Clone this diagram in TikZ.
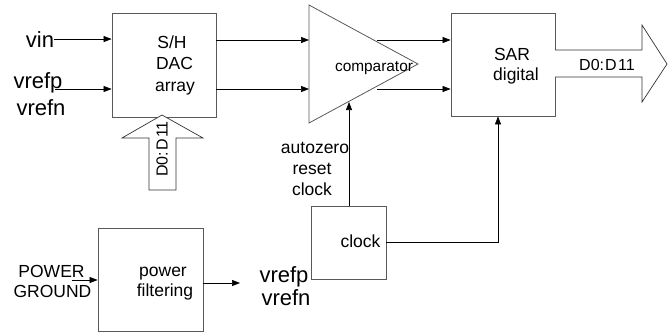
\documentclass[tikz,border=0pt]{standalone}
\usepackage{fontspec}
\setmainfont{Liberation Sans}
\usetikzlibrary{arrows.meta}
\begin{document}
\begin{tikzpicture}[x=1pt,y=-1pt,
  box/.style={draw=black!65, line width=0.8pt, inner sep=0pt},
  wire/.style={draw=black, line width=0.7pt},
  arr/.style={wire, -{Triangle[length=8pt,width=6pt]}},
  big/.style={font=\fontsize{22}{26}\selectfont, inner sep=0pt, anchor=base},
  lbl/.style={font=\fontsize{17.5}{21}\selectfont, inner sep=0pt, anchor=base},
  sml/.style={font=\fontsize{15.4}{18}\selectfont, inner sep=0pt},
  bustxt/.style={font=\fontsize{16}{18}\selectfont, inner sep=0pt},
  bus/.style={draw=black!80, line width=0.7pt, fill=white},
]
\useasboundingbox (0,0) rectangle (671,332);

% blocks
\node[box, minimum width=104pt, minimum height=104pt] (sh) at (164,65) {};
\node[box, minimum width=104pt, minimum height=103pt] (sar) at (503,64.5) {};
\node[box, minimum width=75pt, minimum height=73pt] (clk) at (348.5,242.5) {};
\node[box, minimum width=105pt, minimum height=103pt] (pf) at (150.5,279.5) {};

% comparator triangle
\coordinate (ct) at (309,5);
\coordinate (cb) at (309,123);
\coordinate (cp) at (418,64);
\draw[box] (ct) -- (cp) -- (cb) -- cycle;

% texts in blocks
\node[lbl] (t1) at (172,48) {S/H};
\node[lbl] (t2) at (174.5,69.5) {DAC};
\node[lbl] (t3) at (175,91) {array};
\node[sml, anchor=base] (comp) at (374,71) {comparator};
\node[lbl] (s1) at (512,60) {SAR};
\node[lbl] (s2) at (516,80) {digital};
\node[lbl] (ck) at (360.5,247) {clock};
\node[lbl] (p1) at (163,276) {power};
\node[lbl] (p2) at (165,296) {filtering};

% outer labels
\node[big] (vin) at (40,47) {vin};
\node[big] (vrefp) at (38,88) {vrefp};
\node[big] (vrefn) at (41,115) {vrefn};
\node[big] (vrefp2) at (284,282) {vrefp};
\node[big] (vrefn2) at (286,305) {vrefn};
\node[lbl] (pow) at (51.5,277) {POWER};
\node[lbl] (gnd) at (52.5,297) {GROUND};
\node[lbl] (az) at (315,153) {autozero};
\node[lbl] (rs) at (312,174) {reset};
\node[lbl] (cl) at (312,195) {clock};

% connectors
\draw[arr] (vin.east) -- (vin.east -| sh.west);
\coordinate (vpin) at (55,89);
\draw[arr] (vpin) -- (vpin -| sh.west);
\coordinate (so1) at (216,40);
\coordinate (so2) at (216,89);
\draw[arr] (so1) -- (so1 -| ct);
\draw[arr] (so2) -- (so2 -| ct);
\coordinate (co1) at (377,40);
\coordinate (co2) at (377,89);
\draw[arr] (co1) -- (co1 -| sar.west);
\draw[arr] (co2) -- (co2 -| sar.west);
\coordinate (cin) at (349,102);
\draw[arr] (cin |- clk.north) -- (cin);
\coordinate (sarin) at (498,116);
\draw[arr] (clk.east) -| (sarin |- sar.south);
\coordinate (pw) at (72,280);
\draw[arr] (pw) -- (pw -| pf.west);
\coordinate (pfo) at (240,283);
\draw[arr] (pfo -| pf.east) -- (pfo);

% bus arrows
\draw[bus] (149,190) -- (149,138) -- (122,138) -- (162,115) -- (203,138) -- (176,138) -- (176,190) -- cycle;
\node[bustxt, rotate=90] (dbus1) at (162,149) {D0:\kern1pt D\kern1.5pt 11};
\draw[bus] (555,50) -- (642,50) -- (642,25) -- (667,64) -- (642,102) -- (642,77) -- (555,77);
\node[bustxt] (dbus2) at (607,64.5) {D0:\kern1pt D\kern1.5pt 11};
\end{tikzpicture}
\end{document}
